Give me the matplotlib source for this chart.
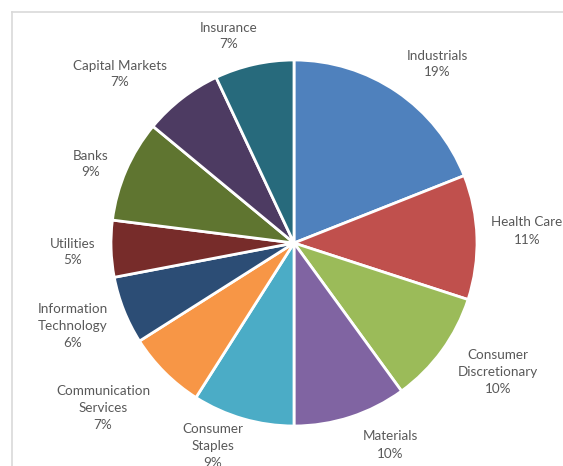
import matplotlib
matplotlib.use("Agg")
import matplotlib.pyplot as plt
from matplotlib.lines import Line2D

# Sector weights (percent), clockwise from 12 o'clock
sectors = ["Industrials", "Health Care", "Consumer\nDiscretionary", "Materials",
           "Consumer\nStaples", "Communication\nServices", "Information\nTechnology",
           "Utilities", "Banks", "Capital Markets", "Insurance"]
weights = [19, 11, 10, 10, 9, 7, 6, 5, 9, 7, 7]
colors = ["#4F81BD", "#C0504D", "#9BBB59", "#8064A2", "#4BACC6", "#F79646",
          "#2C4D75", "#772C2A", "#5F7530", "#4D3B62", "#276A7C"]

# Label anchor points in figure pixels (x from left, y from top)
label_pos = [(437, 64), (527, 231), (498, 372), (390, 445), (213, 446),
             (103, 408), (73, 326), (73, 252), (91, 164), (120, 74), (229, 36)]

W, H = 563, 466
fig = plt.figure(figsize=(W / 100, H / 100), dpi=100)
ax = fig.add_axes([0, 0, 1, 1])

# Chart-area frame (top and left edges visible)
fig.add_artist(Line2D([11.5 / W, 1], [1 - 11.5 / H, 1 - 11.5 / H],
                      transform=fig.transFigure, color="#D9D9D9", lw=1.2))
fig.add_artist(Line2D([11.5 / W, 11.5 / W], [0, 1 - 11.5 / H],
                      transform=fig.transFigure, color="#D9D9D9", lw=1.2))

cx, cy, r = 294, H - 243, 183
ax.pie(weights, colors=colors, startangle=90, counterclock=False,
       center=(cx, cy), radius=r, frame=True,
       wedgeprops=dict(edgecolor="white", linewidth=2))
ax.set_xlim(0, W)
ax.set_ylim(0, H)
ax.set_aspect("equal")
ax.axis("off")

for name, w, (lx, ly) in zip(sectors, weights, label_pos):
    ax.text(lx, H - ly, f"{name}\n{w}%", ha="center", va="center",
            fontsize=9.7, family=["Lato", "DejaVu Sans"], color="#595959",
            linespacing=1.5)

fig.savefig("out.png", dpi=100)
